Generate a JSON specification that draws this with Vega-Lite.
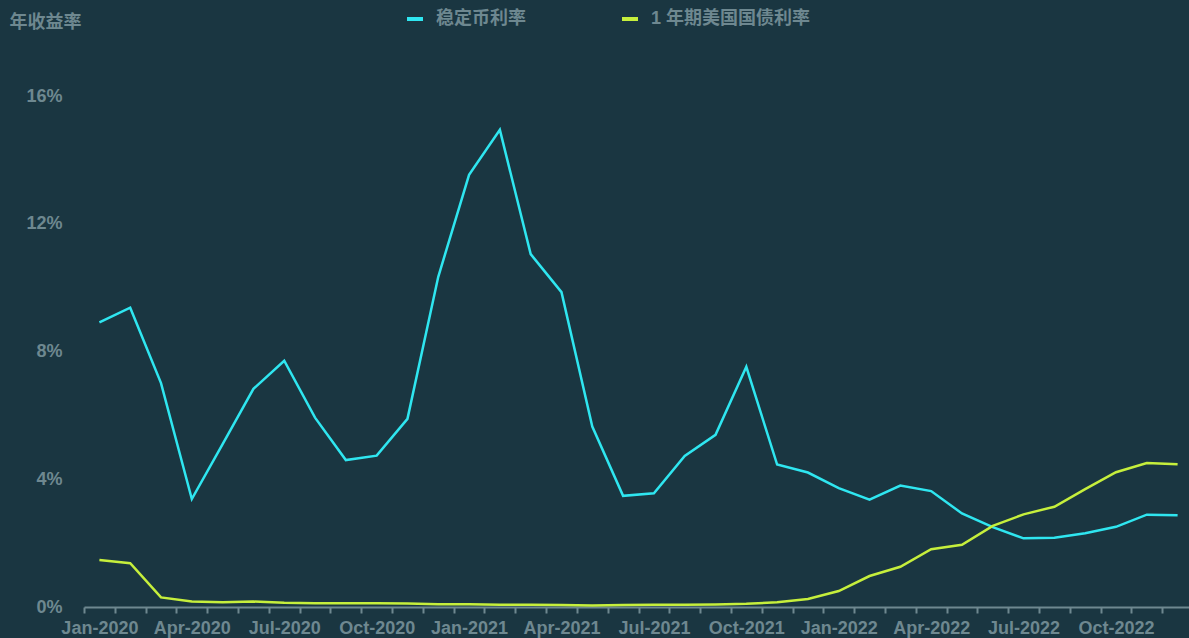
{
  "$schema": "https://vega.github.io/schema/vega-lite/v6.json",
  "width": 1105,
  "height": 511,
  "autosize": "none",
  "padding": {"left": 84, "top": 96, "right": 0, "bottom": 31},
  "background": "#1a3641",
  "config": {"view": {"stroke": null}, "font": "Liberation Sans, Noto Sans CJK SC"},
  "data": {"values": [
    {"month": "Jan-2020", "稳定币利率": 8.91, "1 年期美国国债利率": 1.47},
    {"month": "Feb-2020", "稳定币利率": 9.37, "1 年期美国国债利率": 1.37},
    {"month": "Mar-2020", "稳定币利率": 7.01, "1 年期美国国债利率": 0.30},
    {"month": "Apr-2020", "稳定币利率": 3.38, "1 年期美国国债利率": 0.17},
    {"month": "May-2020", "稳定币利率": 5.10, "1 年期美国国债利率": 0.15},
    {"month": "Jun-2020", "稳定币利率": 6.83, "1 年期美国国债利率": 0.17},
    {"month": "Jul-2020", "稳定币利率": 7.71, "1 年期美国国债利率": 0.13},
    {"month": "Aug-2020", "稳定币利率": 5.93, "1 年期美国国债利率": 0.12},
    {"month": "Sep-2020", "稳定币利率": 4.60, "1 年期美国国债利率": 0.12},
    {"month": "Oct-2020", "稳定币利率": 4.74, "1 年期美国国债利率": 0.12},
    {"month": "Nov-2020", "稳定币利率": 5.89, "1 年期美国国债利率": 0.11},
    {"month": "Dec-2020", "稳定币利率": 10.34, "1 年期美国国债利率": 0.09},
    {"month": "Jan-2021", "稳定币利率": 13.53, "1 年期美国国债利率": 0.09},
    {"month": "Feb-2021", "稳定币利率": 14.94, "1 年期美国国债利率": 0.07},
    {"month": "Mar-2021", "稳定币利率": 11.05, "1 年期美国国债利率": 0.07},
    {"month": "Apr-2021", "稳定币利率": 9.86, "1 年期美国国债利率": 0.06},
    {"month": "May-2021", "稳定币利率": 5.65, "1 年期美国国债利率": 0.05},
    {"month": "Jun-2021", "稳定币利率": 3.48, "1 年期美国国债利率": 0.06},
    {"month": "Jul-2021", "稳定币利率": 3.56, "1 年期美国国债利率": 0.07},
    {"month": "Aug-2021", "稳定币利率": 4.73, "1 年期美国国债利率": 0.07},
    {"month": "Sep-2021", "稳定币利率": 5.39, "1 年期美国国债利率": 0.08},
    {"month": "Oct-2021", "稳定币利率": 7.52, "1 年期美国国债利率": 0.10},
    {"month": "Nov-2021", "稳定币利率": 4.46, "1 年期美国国债利率": 0.15},
    {"month": "Dec-2021", "稳定币利率": 4.21, "1 年期美国国债利率": 0.25},
    {"month": "Jan-2022", "稳定币利率": 3.72, "1 年期美国国债利率": 0.50},
    {"month": "Feb-2022", "稳定币利率": 3.36, "1 年期美国国债利率": 0.97},
    {"month": "Mar-2022", "稳定币利率": 3.80, "1 年期美国国债利率": 1.26},
    {"month": "Apr-2022", "稳定币利率": 3.63, "1 年期美国国债利率": 1.81},
    {"month": "May-2022", "稳定币利率": 2.93, "1 年期美国国债利率": 1.95},
    {"month": "Jun-2022", "稳定币利率": 2.50, "1 年期美国国债利率": 2.54},
    {"month": "Jul-2022", "稳定币利率": 2.15, "1 年期美国国债利率": 2.90},
    {"month": "Aug-2022", "稳定币利率": 2.17, "1 年期美国国债利率": 3.14},
    {"month": "Sep-2022", "稳定币利率": 2.31, "1 年期美国国债利率": 3.69},
    {"month": "Oct-2022", "稳定币利率": 2.51, "1 年期美国国债利率": 4.22},
    {"month": "Nov-2022", "稳定币利率": 2.89, "1 年期美国国债利率": 4.51},
    {"month": "Dec-2022", "稳定币利率": 2.87, "1 年期美国国债利率": 4.47}
  ]},
  "transform": [{"fold": ["稳定币利率", "1 年期美国国债利率"], "as": ["series", "value"]}],
  "mark": {"type": "line", "strokeWidth": 2.5, "clip": false},
  "encoding": {
    "x": {
      "field": "month", "type": "ordinal", "sort": null, "bandPosition": 0.5,
      "scale": {"type": "band", "paddingInner": 0, "paddingOuter": 0, "range": [0, 1109]},
      "axis": {
        "title": null, "tickBand": "extent", "labelAngle": 0,
        "labelExpr": "indexof(['Jan','Apr','Jul','Oct'], slice(datum.label, 0, 3)) >= 0 ? datum.label : ''",
        "labelOverlap": false, "labelFontSize": 18, "labelFontWeight": "bold", "labelColor": "#6e8890",
        "labelPadding": 6, "domainColor": "#6e8890", "domainWidth": 2,
        "tickColor": "#6e8890", "tickWidth": 2, "tickSize": 6, "grid": false
      }
    },
    "y": {
      "field": "value", "type": "quantitative",
      "scale": {"domain": [0, 16], "nice": false},
      "axis": {
        "values": [0, 4, 8, 12, 16], "labelExpr": "datum.value + '%'",
        "domain": false, "ticks": false, "grid": false, "labelPadding": 22,
        "labelFontSize": 18, "labelFontWeight": "bold", "labelColor": "#6e8890",
        "title": "年收益率", "titleAngle": 0, "titleX": -75, "titleY": -74,
        "titleAlign": "left", "titleBaseline": "middle", "titleFontSize": 18,
        "titleColor": "#6e8890", "titleFontWeight": "bold"
      }
    },
    "color": {
      "field": "series", "type": "nominal",
      "scale": {"domain": ["稳定币利率", "1 年期美国国债利率"], "range": ["#2fe6f0", "#c6ef3c"]},
      "legend": {
        "title": null, "orient": "none", "legendX": 321, "legendY": -87, "direction": "horizontal",
        "labelFontSize": 18, "labelFontWeight": "bold", "labelColor": "#6e8890",
        "symbolType": "stroke", "symbolStrokeWidth": 4, "symbolSize": 256,
        "labelOffset": 11, "columnPadding": 88, "padding": 0, "labelLimit": 400
      }
    }
  }
}
